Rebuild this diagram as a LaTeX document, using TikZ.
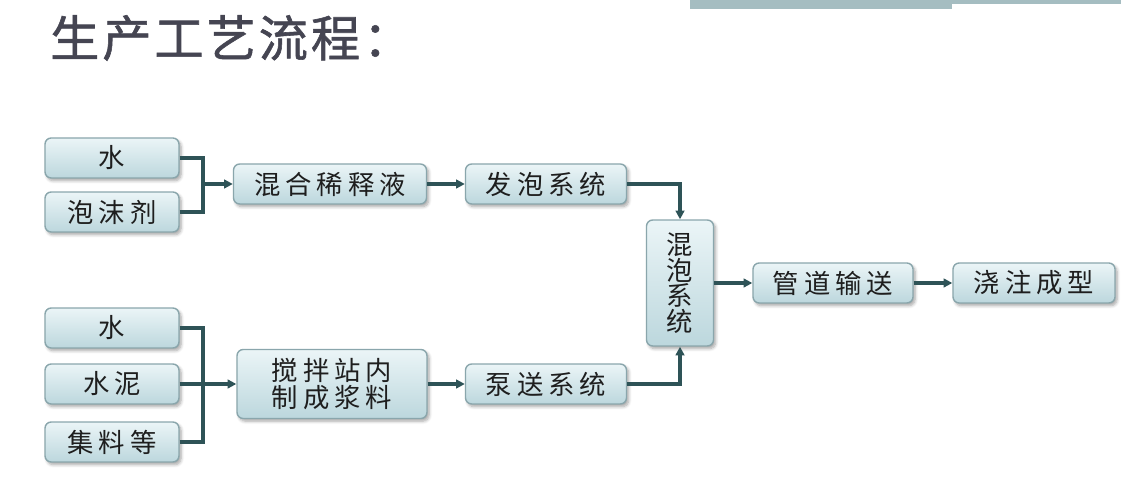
\documentclass[tikz,border=0pt]{standalone}
\usepackage{fontspec}
\usepackage{xcolor}
\usetikzlibrary{positioning, arrows.meta, shadows.blur, calc}
\newfontfamily\cjktitle[LetterSpace=6, FakeBold=1.2]{Noto Sans CJK SC}
\newfontfamily\cjkbox[LetterSpace=19]{Noto Sans CJK SC}
\newfontfamily\cjkplain{Noto Sans CJK SC}
\definecolor{flowTop}{HTML}{EBF5F7}
\definecolor{flowBottom}{HTML}{BCD7DD}
\definecolor{flowEdge}{HTML}{8AA6AC}
\definecolor{flowLine}{HTML}{2E5357}
\definecolor{flowText}{HTML}{1E1E1E}
\definecolor{titleInk}{HTML}{454552}
\definecolor{barTeal}{HTML}{A5BDC1}

\begin{document}
\begin{tikzpicture}[
  x=0.02cm, y=-0.02cm,
  stepbox/.style={
    rectangle, rounded corners=3.5pt,
    minimum width=2.68cm, minimum height=0.8cm,
    draw=flowEdge, line width=0.8pt,
    top color=flowTop, bottom color=flowBottom,
    text=flowText, font=\cjkbox\fontsize{15}{16}\selectfont, align=center,
    inner sep=0pt,
    blur shadow={shadow xshift=1.2pt, shadow yshift=-1.5pt, shadow blur steps=6, shadow opacity=35}
  },
  link/.style={
    draw=flowLine, line width=1.8pt
  },
  flowarrow/.style={
    link, -{Triangle[length=5pt, width=5pt]}
  },
]
\useasboundingbox (0,0) rectangle (1121,482);

% === Title and top bar ===
\node[anchor=west, font=\cjktitle\fontsize{28}{30}\selectfont, text=titleInk] (title) at (44,38) {生产工艺流程：};
\fill[barTeal] (690,0) rectangle (952,9);
\fill[barTeal] (952,0) rectangle (1121,4.5);

% === Foam branch ===
\node[stepbox] (water1) at (112,158) {水};
\node[stepbox] (agent) at (112,212) {泡沫剂};
\node[stepbox, minimum width=3.86cm] (dilute) at (330,184) {混合稀释液};
\node[stepbox, minimum width=3.22cm] (foamer) at (546,184) {发泡系统};

% === Slurry branch ===
\node[stepbox] (water2) at (112,328) {水};
\node[stepbox] (cement) at (112,384) {水泥};
\node[stepbox] (aggregate) at (112,442) {集料等};
\node[stepbox, minimum width=3.8cm, minimum height=1.38cm,
  font=\cjkbox\fontsize{15}{15.5}\selectfont] (slurry) at (332,384) {搅拌站内\\制成浆料};
\node[stepbox, minimum width=3.22cm] (pump) at (546,384) {泵送系统};

% === Mixing and output ===
\node[stepbox, minimum width=1.34cm, minimum height=2.52cm,
  font=\cjkplain\fontsize{15}{12.8}\selectfont] (mixer) at (680,283) {混\\泡\\系\\统};
\node[stepbox, minimum width=3.2cm] (pipe) at (833,283) {管道输送};
\node[stepbox, minimum width=3.24cm] (cast) at (1034,283) {浇注成型};

% === Connectors ===
\coordinate (jfoam) at (203,184);
\coordinate (jslurry) at (203,384);
\foreach \s in {water1, agent}
  \draw[link] (\s.east) -| (jfoam);
\foreach \s in {water2, cement, aggregate}
  \draw[link] (\s.east) -| (jslurry);
\draw[flowarrow] (jfoam) -- (dilute.west);
\draw[flowarrow] (jslurry) -- (slurry.west);
\draw[flowarrow] (dilute.east) -- (foamer.west);
\draw[flowarrow] (slurry.east) -- (pump.west);
\draw[flowarrow] (foamer.east) -| (mixer.north);
\draw[flowarrow] (pump.east) -| (mixer.south);
\draw[flowarrow] (mixer.east) -- (pipe.west);
\draw[flowarrow] (pipe.east) -- (cast.west);

\end{tikzpicture}
\end{document}
